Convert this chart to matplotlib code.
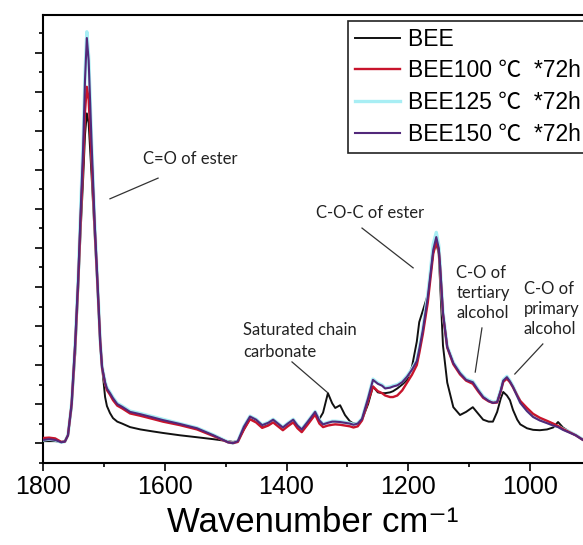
import matplotlib
matplotlib.use("Agg")
import matplotlib.pyplot as plt
from matplotlib.ticker import MultipleLocator, NullFormatter

plt.rcParams['font.family'] = ['Liberation Sans', 'Noto Sans CJK SC', 'DejaVu Sans']

# FTIR spectra (arbitrary absorbance units, baseline at 0)
wavenumber = [
    1800, 1790, 1780, 1770, 1764, 1759, 1753, 1747, 1742, 1738,
    1734, 1731, 1728, 1725, 1720, 1715, 1711, 1706, 1703, 1698,
    1695, 1690, 1685, 1678, 1670, 1657, 1640, 1620, 1603, 1575,
    1547, 1520, 1496, 1488, 1480, 1470, 1460, 1450, 1440, 1430,
    1422, 1414, 1406, 1398, 1389, 1382, 1375, 1365, 1353, 1346,
    1340, 1332, 1325, 1320, 1312, 1304, 1296, 1290, 1283, 1276,
    1266, 1258, 1250, 1243, 1238, 1230, 1225, 1218, 1210, 1202,
    1194, 1186, 1182, 1176, 1168, 1163, 1159, 1154, 1150, 1148,
    1143, 1136, 1126, 1115, 1105, 1094, 1085, 1077, 1068, 1061,
    1054, 1048, 1044, 1038, 1033, 1028, 1021, 1016, 1005, 995,
    984, 972, 962, 954, 946, 934, 925, 913, 905,
]

bee = [
    0.05, 0.05, 0.05, 0.03, 0.05, 0.2, 0.9, 2.3, 4.0, 5.5,
    6.8, 7.9, 8.45, 8.2, 6.8, 5.3, 4.1, 2.46, 1.95, 1.18,
    0.95, 0.77, 0.64, 0.55, 0.5, 0.41, 0.35, 0.3, 0.26, 0.2,
    0.15, 0.1, 0.05, 0.03, 0.05, 0.35, 0.63, 0.55, 0.43, 0.5,
    0.6, 0.5, 0.4, 0.5, 0.58, 0.45, 0.35, 0.55, 0.76, 0.62,
    0.78, 1.28, 1.02, 0.9, 0.97, 0.72, 0.56, 0.5, 0.52, 0.6,
    1.0, 1.45, 1.3, 1.28, 1.28, 1.3, 1.33, 1.4, 1.5, 1.62,
    1.95, 2.6, 3.1, 3.4, 3.8, 4.4, 4.9, 5.13, 4.85, 4.2,
    2.5, 1.55, 0.92, 0.72, 0.8, 0.92, 0.75, 0.6, 0.55, 0.55,
    0.8, 1.15, 1.31, 1.22, 1.1, 0.85, 0.6, 0.48, 0.38, 0.34,
    0.33, 0.35, 0.4, 0.54, 0.4, 0.28, 0.2, 0.1, 0.05,
]

bee_100 = [
    0.13, 0.14, 0.12, 0.03, 0.04, 0.2, 1.0, 2.55, 4.2, 5.8,
    7.2, 8.5, 9.13, 8.8, 7.2, 5.5, 4.25, 2.6, 1.93, 1.52,
    1.36, 1.24, 1.1, 0.96, 0.89, 0.76, 0.7, 0.62, 0.55, 0.46,
    0.35, 0.18, 0.02, 0.0, 0.03, 0.35, 0.61, 0.53, 0.39, 0.45,
    0.53, 0.43, 0.33, 0.43, 0.53, 0.38, 0.28, 0.48, 0.73, 0.5,
    0.41, 0.45, 0.47, 0.48, 0.47, 0.45, 0.43, 0.4, 0.43, 0.58,
    1.08, 1.45, 1.33, 1.28, 1.22, 1.18, 1.18, 1.22, 1.35, 1.55,
    1.75, 2.0, 2.3, 2.8, 3.6, 4.3, 4.85, 5.15, 4.95, 4.55,
    3.3, 2.45, 2.02, 1.76, 1.6, 1.52, 1.32, 1.16, 1.07, 1.03,
    1.04, 1.33, 1.57, 1.65, 1.56, 1.43, 1.22, 1.08, 0.9, 0.75,
    0.65, 0.57, 0.5, 0.44, 0.36, 0.27, 0.2, 0.08, 0.04,
]

bee_125 = [
    0.08, 0.1, 0.08, 0.02, 0.04, 0.21, 1.02, 2.62, 4.35, 6.1,
    7.75, 9.45, 10.54, 9.9, 7.65, 5.62, 4.32, 2.62, 1.97, 1.57,
    1.42, 1.3, 1.17, 1.02, 0.95, 0.82, 0.76, 0.68, 0.61, 0.5,
    0.39, 0.21, 0.03, 0.0, 0.05, 0.43, 0.69, 0.61, 0.47, 0.53,
    0.61, 0.51, 0.41, 0.51, 0.61, 0.46, 0.36, 0.56, 0.81, 0.59,
    0.49, 0.53, 0.56, 0.56, 0.55, 0.53, 0.51, 0.48, 0.51, 0.63,
    1.16, 1.64, 1.54, 1.49, 1.42, 1.44, 1.47, 1.5, 1.58, 1.72,
    1.9, 2.12, 2.42, 2.95, 3.8, 4.5, 5.1, 5.4, 5.08, 4.65,
    3.36, 2.48, 2.07, 1.81, 1.64, 1.58, 1.37, 1.2, 1.1, 1.05,
    1.07, 1.37, 1.62, 1.71, 1.6, 1.46, 1.22, 1.05, 0.84, 0.69,
    0.6, 0.53, 0.47, 0.43, 0.36, 0.28, 0.21, 0.09, 0.05,
]

bee_150 = [
    0.08, 0.1, 0.08, 0.02, 0.04, 0.2, 1.0, 2.6, 4.3, 6.0,
    7.6, 9.3, 10.38, 9.8, 7.6, 5.6, 4.3, 2.6, 1.95, 1.55,
    1.4, 1.28, 1.15, 1.0, 0.93, 0.8, 0.74, 0.66, 0.59, 0.49,
    0.38, 0.2, 0.02, 0.0, 0.05, 0.42, 0.68, 0.6, 0.46, 0.52,
    0.6, 0.5, 0.4, 0.5, 0.6, 0.45, 0.35, 0.55, 0.8, 0.58,
    0.48, 0.52, 0.55, 0.55, 0.54, 0.52, 0.5, 0.47, 0.5, 0.62,
    1.15, 1.62, 1.52, 1.47, 1.4, 1.42, 1.45, 1.48, 1.56, 1.7,
    1.88, 2.1, 2.4, 2.9, 3.74, 4.4, 4.95, 5.28, 5.0, 4.6,
    3.33, 2.46, 2.05, 1.79, 1.62, 1.56, 1.35, 1.18, 1.08, 1.03,
    1.05, 1.35, 1.6, 1.69, 1.58, 1.44, 1.2, 1.03, 0.82, 0.67,
    0.58, 0.51, 0.45, 0.41, 0.34, 0.26, 0.2, 0.08, 0.04,
]

labels = ["BEE", "BEE100 \u2103  *72h", "BEE125 \u2103  *72h", "BEE150 \u2103  *72h"]
colors = ["#111111", "#c8142c", "#a8eef4", "#52287a"]

fig = plt.figure(figsize=(5.83, 5.45), dpi=100)
ax = fig.add_axes([43 / 583, 82 / 545, 540 / 583, 448 / 545])

ax.plot(wavenumber, bee, color=colors[0], lw=1.4, label=labels[0], zorder=2)
ax.plot(wavenumber, bee_125, color=colors[2], lw=2.4, label=labels[2], zorder=3)
ax.plot(wavenumber, bee_100, color=colors[1], lw=1.7, label=labels[1], zorder=4)
ax.plot(wavenumber, bee_150, color=colors[3], lw=1.5, label=labels[3], zorder=5)

ax.set_xlim(1800, 913)
ax.set_ylim(-0.51, 10.97)

ax.xaxis.set_major_locator(MultipleLocator(200))
ax.xaxis.set_minor_locator(MultipleLocator(100))
ax.yaxis.set_major_locator(MultipleLocator(1))
ax.yaxis.set_minor_locator(MultipleLocator(0.5))
ax.yaxis.set_major_formatter(NullFormatter())

ax.tick_params(axis='both', which='major', direction='out', length=6, width=1.2)
ax.tick_params(axis='both', which='minor', direction='out', length=3, width=1.2)
ax.tick_params(axis='x', labelsize=18, pad=3)
ax.spines['right'].set_visible(False)
for side in ('left', 'bottom', 'top'):
    ax.spines[side].set_linewidth(1.5)

ax.set_xlabel("Wavenumber cm\u207b\u00b9", fontsize=25, labelpad=5)

# peak assignments
note_font = dict(family='Lato', fontsize=12, color='#222222')
line_kw = dict(color='#333333', lw=0.9)

ax.text(1636, 7.28, "C=O of ester", ha='left', va='center', **note_font)
ax.plot([1690, 1611], [6.26, 6.79], **line_kw)

ax.text(1263, 5.9, "C-O-C of ester", ha='center', va='center', **note_font)
ax.plot([1276, 1192], [5.51, 4.49], **line_kw)

ax.text(1471, 2.62, "Saturated chain\ncarbonate", ha='left', va='center',
        multialignment='left', linespacing=1.45, **note_font)
ax.plot([1391, 1333], [2.08, 1.3], **line_kw)

ax.text(1121, 3.85, "C-O of\ntertiary\nalcohol", ha='left', va='center',
        multialignment='left', linespacing=1.3, **note_font)
ax.plot([1079, 1090], [2.95, 1.82], **line_kw)

ax.text(1010, 3.44, "C-O of\nprimary\nalcohol", ha='left', va='center',
        multialignment='left', linespacing=1.3, **note_font)
ax.plot([979, 1025], [2.54, 1.77], **line_kw)

# legend runs past the right edge of the figure
handles, names = ax.get_legend_handles_labels()
order = [names.index(l) for l in labels]
leg = ax.legend([handles[i] for i in order], [names[i] + "    " for i in order],
                loc='upper left', bbox_to_anchor=(0.565, 0.987),
                borderaxespad=0, fontsize=16.5, handlelength=1.95,
                handletextpad=0.35, labelspacing=0.38, borderpad=0.3,
                fancybox=False, framealpha=1, edgecolor='#222222')
leg.get_frame().set_linewidth(1.2)

fig.savefig("out.png", dpi=100)
